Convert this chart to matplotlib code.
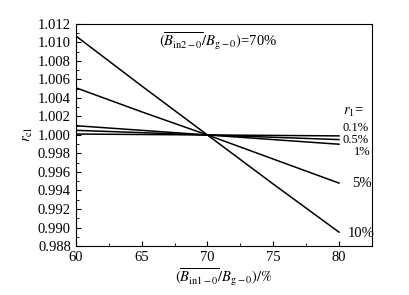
import matplotlib
matplotlib.use("Agg")
import matplotlib.pyplot as plt
from matplotlib.ticker import MultipleLocator

# data
x_vals = [60, 65, 70, 75, 80]
r1_labels = ["0.1%", "0.5%", "1%", "5%", "10%"]
r_cl = {
    "0.1%": [1.0001, 1.00005, 1.0000, 0.99995, 0.9999],
    "0.5%": [1.0005, 1.00025, 1.0000, 0.99975, 0.9995],
    "1%":   [1.0010, 1.0005, 1.0000, 0.9995, 0.9990],
    "5%":   [1.0051, 1.0025, 1.0000, 0.9974, 0.9948],
    "10%":  [1.0107, 1.0053, 1.0000, 0.9947, 0.9895],
}
# label positions (data units) and sizes
label_pos = {"0.1%": (80.3, 1.00075, 9), "0.5%": (80.3, 0.99945, 9),
             "1%": (81.1, 0.99815, 9), "5%": (81.0, 0.9948, 10.5),
             "10%": (80.7, 0.9894, 10.5)}

plt.rcParams['font.family'] = ['Liberation Serif', 'DejaVu Serif']
plt.rcParams['mathtext.fontset'] = 'stix'
plt.rcParams['font.size'] = 10.5

fig = plt.figure(figsize=(4.1, 2.95), dpi=100)
ax = fig.add_axes([0.185, 0.166, 0.722, 0.753])

for lab in r1_labels:
    ax.plot(x_vals, r_cl[lab], color='black', linewidth=1.1)
    px, py, fs = label_pos[lab]
    ax.text(px, py, lab, ha='left', va='center', fontsize=fs)

ax.text(80.3, 1.0024, r'$r_1$=', ha='left', va='center')
ax.text(70.8, 1.0101, r'$(\overline{B_{\mathrm{in2-0}}}/B_{\mathrm{g-0}})$=70%',
        ha='center', va='center')

ax.set_xlim(60, 82.5)
ax.set_ylim(0.988, 1.012)
ax.set_xticks([60, 65, 70, 75, 80])
ax.set_yticks([0.988 + 0.002 * i for i in range(13)])
ax.set_yticklabels(['%.3f' % (0.988 + 0.002 * i) for i in range(13)])
ax.xaxis.set_minor_locator(MultipleLocator(2.5))
ax.yaxis.set_minor_locator(MultipleLocator(0.001))
ax.tick_params(direction='in', which='both', top=False, right=False)
ax.tick_params(which='major', length=3.5, labelsize=10.5)
ax.tick_params(which='minor', length=2)

ax.set_xlabel(r'$(\overline{B_{\mathrm{in1-0}}}/B_{\mathrm{g-0}})/\%$', labelpad=2)
ax.set_ylabel(r'$r_{\mathrm{cl}}$', labelpad=2)

fig.savefig('out.png', dpi=100)
